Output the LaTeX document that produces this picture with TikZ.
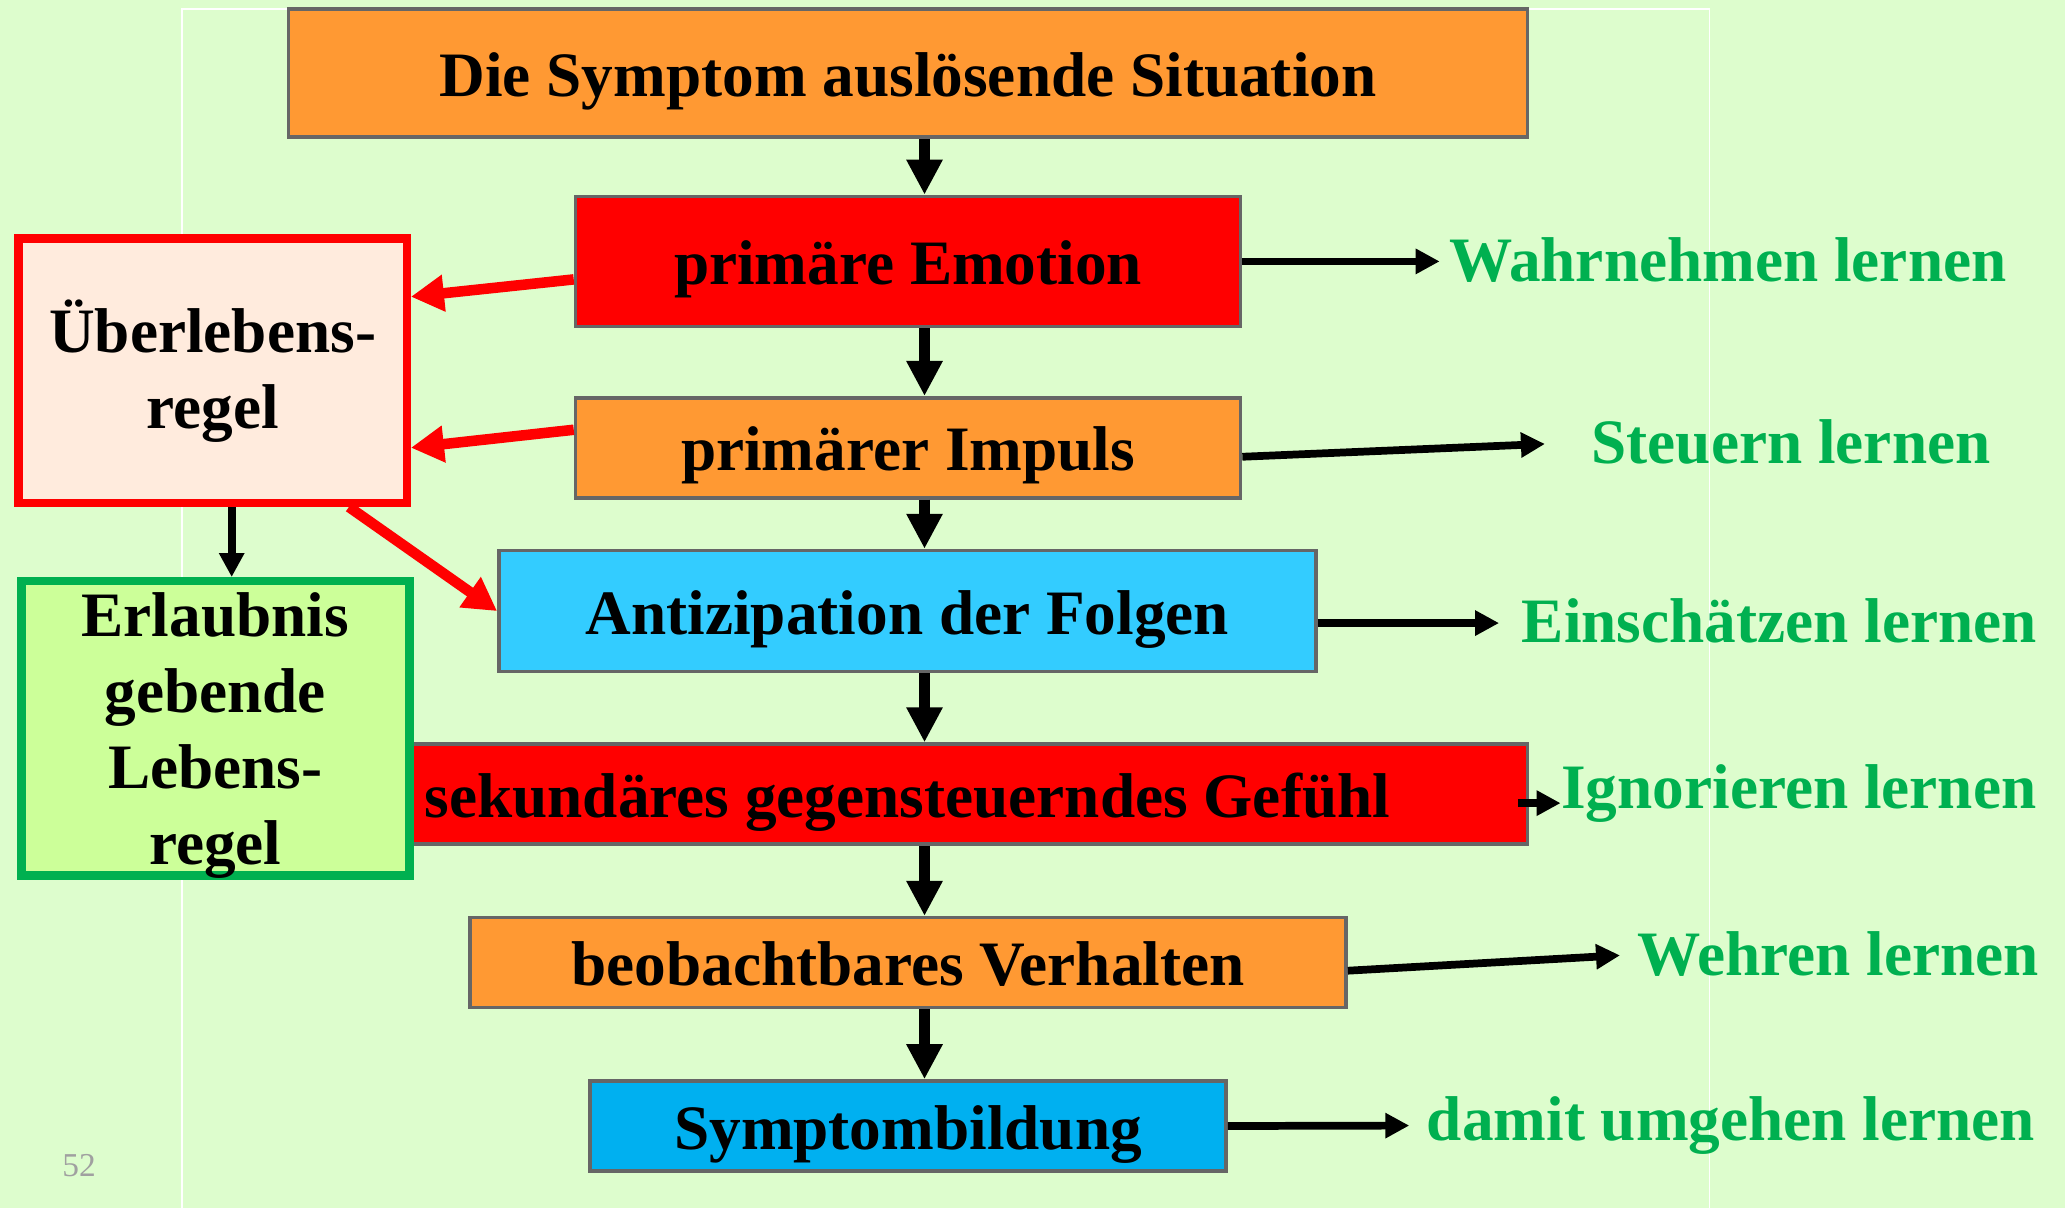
\documentclass[tikz,border=0pt]{standalone}
\usepackage{fontspec}
\setmainfont{Liberation Serif}
\usepackage{tikz}
\usetikzlibrary{arrows.meta,positioning}
\definecolor{bgpale}{HTML}{DDFDCD}
\definecolor{boxorange}{HTML}{FF9933}
\definecolor{boxcyan}{HTML}{33CCFF}
\definecolor{boxblue}{HTML}{00B0F0}
\definecolor{rulepink}{HTML}{FFEBDD}
\definecolor{rulegreen}{HTML}{CCFF99}
\definecolor{learn}{HTML}{00B050}
\definecolor{edge}{HTML}{666666}
\definecolor{pagegray}{HTML}{A0A0A0}

\begin{document}
\begin{tikzpicture}[x=0.01317cm,y=-0.01317cm, every node/.style={font=\fontsize{18}{21.6}\selectfont\bfseries,align=center},
  bx/.style={draw=edge,line width=1pt,inner sep=0pt,text height=0.6cm,text depth=0.14cm},
  rl/.style={line width=2.4pt,inner sep=0pt,minimum width=3.88cm},
  lb/.style={text=learn,anchor=base west,inner sep=0pt},
  dn/.style={-{Triangle[width=3.4mm,length=3.5mm]},line width=3.2pt},
  sd/.style={-{Triangle[width=2.4mm,length=2.4mm]},line width=2.2pt},
  ra/.style={-{Triangle[width=3.5mm,length=3.3mm]},draw=red,line width=3pt}]
  \fill[bgpale] (0,0) rectangle (1568,917);
  \draw[white,line width=0.5pt] (138,917) -- (138,7) -- (1298,7) -- (1298,917);
  \useasboundingbox (0,0) rectangle (1568,917);
  % main column
  \node[bx,fill=boxorange,minimum width=12.39cm,minimum height=1.28cm] (top) at (689.5,55.5) {Die Symptom auslösende Situation};
  \node[bx,fill=red,minimum width=6.65cm,minimum height=1.30cm] (emo) at (689.5,198.5) {primäre Emotion};
  \node[bx,fill=boxorange,minimum width=6.65cm,minimum height=1cm] (imp) at (689.5,340) {primärer Impuls};
  \node[bx,fill=boxcyan,minimum width=8.17cm,minimum height=1.21cm] (antiz) at (689,464) {Antizipation der Folgen};
  \node[bx,fill=red,minimum width=11.15cm,minimum height=1cm] (sek) at (736.5,603) {};
  \node[text height=0.6cm,text depth=0.14cm] (sektxt) at (689,603) {sekundäres gegensteuerndes Gefühl};
  \node[bx,fill=boxorange,minimum width=8.76cm,minimum height=0.9cm] (beob) at (689.5,731) {beobachtbares Verhalten};
  \node[bx,fill=boxblue,minimum width=6.36cm,minimum height=0.9cm] (symp) at (689.5,855) {Symptombildung};
  % rules on the left
  \node[rl,draw=red,fill=rulepink,minimum height=2.64cm] (ueber) at (161.5,281.5) {Überlebens-\\regel};
  \node[rl,draw=learn,fill=rulegreen,minimum height=2.94cm,text depth=0pt] (erl) at (163.5,553) {Erlaubnis\\gebende\\Lebens-\\regel};
  % what to learn
  \node[lb] (wahr) at (1100,214) {Wahrnehmen lernen};
  \node[lb] (steu) at (1208,352) {Steuern lernen};
  \node[lb] (einsch) at (1155,488) {Einschätzen lernen};
  \node[lb] (ign) at (1185,614) {Ignorieren lernen};
  \node[lb] (wehr) at (1243,741) {Wehren lernen};
  \node[lb] (damit) at (1083,866) {damit umgehen lernen};
  \node[font=\fontsize{9.5}{11}\selectfont,text=pagegray] (pnum) at (60,885) {52};
  % arrows
  \coordinate (col) at (702,0);
  \draw[dn] (top.south -| col) -- (emo.north -| col); \draw[dn] (emo.south -| col) -- (imp.north -| col);
  \draw[dn] (imp.south -| col) -- (antiz.north -| col); \draw[dn] (antiz.south -| col) -- (sek.north -| col);
  \draw[dn] (sek.south -| col) -- (beob.north -| col); \draw[dn] (beob.south -| col) -- (symp.north -| col);
  \draw[sd,shorten >=0.9mm] (emo.east) -- (emo.east -| wahr.west);
  \draw[sd,shorten >=4.6mm] ([yshift=-0.9mm]imp.east) -- (steu.west);
  \draw[sd,shorten >=2.2mm] ([yshift=-1.2mm]antiz.east) -- ([yshift=-1.2mm]antiz.east -| einsch.west);
  \draw[sd] ([xshift=-1.1mm,yshift=-0.9mm]sek.east) -- ([yshift=-0.9mm]sek.east -| ign.west);
  \draw[sd,shorten >=1.7mm] ([yshift=-0.8mm]beob.east) -- (wehr.west);
  \draw[sd,shorten >=1.7mm] (symp.east) -- (damit.west);
  \draw[ra] ([yshift=-1.8mm]emo.west) -- ([yshift=7.4mm]ueber.east);
  \draw[ra] ([yshift=1.8mm]imp.west) -- ([yshift=-7.7mm]ueber.east);
  \draw[ra] (ueber.-45) -- (antiz.west);
  \draw[sd] ([xshift=1.9mm]ueber.south) -- ([xshift=1.9mm]ueber.south |- erl.north);
\end{tikzpicture}
\end{document}
